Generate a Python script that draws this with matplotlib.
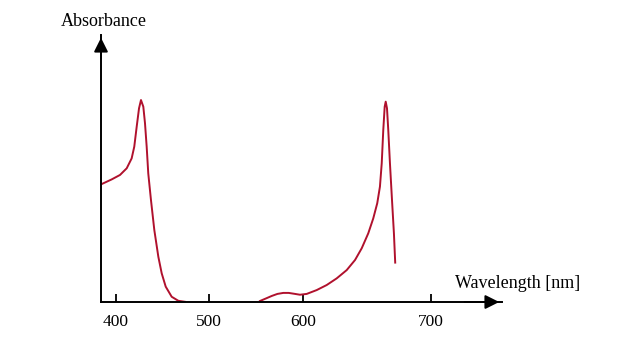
import numpy as np
import matplotlib.pyplot as plt

# absorbance spectrum, two bands
blue_wl = [385.0, 395.7, 404.6, 411.8, 417.1, 419.9, 422.5, 425.0, 427.1, 429.6, 431.4,
           433.2, 434.9, 437.8, 441.4, 445.7, 449.3, 453.6, 460.0, 467.1, 474.3]
blue_abs = [0.584, 0.607, 0.629, 0.662, 0.711, 0.769, 0.868, 0.959, 1.0, 0.967, 0.885,
            0.769, 0.637, 0.505, 0.356, 0.224, 0.142, 0.076, 0.026, 0.006, 0.001]

red_wl = [554.4, 561.0, 567.0, 573.0, 579.3, 585.0, 590.5, 597.1, 603.1, 610.9, 618.7,
          626.5, 634.3, 640.8, 646.0, 651.1, 655.0, 658.1, 660.2, 661.6, 662.8, 663.9,
          664.7, 665.7, 666.7, 668.0, 669.6, 671.1, 672.1]
red_abs = [0.005, 0.018, 0.030, 0.040, 0.045, 0.045, 0.041, 0.036, 0.040, 0.059, 0.084,
           0.117, 0.158, 0.208, 0.266, 0.340, 0.414, 0.489, 0.571, 0.687, 0.851, 0.967,
           0.992, 0.959, 0.851, 0.687, 0.505, 0.340, 0.195]

tick_wl = [400, 500, 600, 700]
tick_pos = [115.7, 209.0, 302.7, 431.0]   # axis is not evenly spaced


def fwd(w):
    w = np.asarray(w, dtype=float)
    p = np.interp(w, tick_wl, tick_pos)
    s0 = (tick_pos[1] - tick_pos[0]) / (tick_wl[1] - tick_wl[0])
    s1 = (tick_pos[-1] - tick_pos[-2]) / (tick_wl[-1] - tick_wl[-2])
    p = np.where(w < tick_wl[0], tick_pos[0] + (w - tick_wl[0]) * s0, p)
    p = np.where(w > tick_wl[-1], tick_pos[-1] + (w - tick_wl[-1]) * s1, p)
    return p


def inv(p):
    p = np.asarray(p, dtype=float)
    w = np.interp(p, tick_pos, tick_wl)
    s0 = (tick_pos[1] - tick_pos[0]) / (tick_wl[1] - tick_wl[0])
    s1 = (tick_pos[-1] - tick_pos[-2]) / (tick_wl[-1] - tick_wl[-2])
    w = np.where(p < tick_pos[0], tick_wl[0] + (p - tick_pos[0]) / s0, w)
    w = np.where(p > tick_pos[-1], tick_wl[-1] + (p - tick_pos[-1]) / s1, w)
    return w


plt.rcParams['font.family'] = ['Liberation Serif', 'DejaVu Serif']

fig = plt.figure(figsize=(6.41, 3.6), dpi=100)
ax = fig.add_axes([101 / 641, 1 - 302 / 360, (502 - 101) / 641, (302 - 35) / 360])
ax.set_xscale('function', functions=(fwd, inv))
ax.set_xlim(inv(101), inv(502))
ax.set_ylim(0, 1.322)

col = '#b0112d'
ax.plot(blue_wl, blue_abs, color=col, lw=1.4, solid_joinstyle='round')
ax.plot(red_wl, red_abs, color=col, lw=1.4, solid_joinstyle='round')

for s in ['top', 'right']:
    ax.spines[s].set_visible(False)
ax.spines['left'].set_linewidth(1.4)
ax.spines['bottom'].set_linewidth(1.4)
ax.set_yticks([])
ax.set_xticks(tick_wl)
ax.set_xticklabels([str(t) for t in tick_wl])
ax.tick_params(axis='x', direction='in', length=6, width=1.3, pad=9, labelsize=12.5)
ax.xaxis.set_minor_locator(plt.NullLocator())

# arrow heads
ax.annotate('', xy=(0, 1.0), xytext=(0, 0.9), xycoords='axes fraction',
            arrowprops=dict(arrowstyle='-|>', color='black', lw=1.4, mutation_scale=21))
ax.annotate('', xy=(1.0, 0), xytext=(0.9, 0), xycoords='axes fraction',
            arrowprops=dict(arrowstyle='-|>', color='black', lw=1.4, mutation_scale=21))

fig.text(104 / 641, 1 - 21 / 360, 'Absorbance', ha='center', va='center', fontsize=13)
fig.text(518 / 641, 1 - 284 / 360, 'Wavelength [nm]', ha='center', va='center', fontsize=13)

fig.savefig('out.png', dpi=100)
